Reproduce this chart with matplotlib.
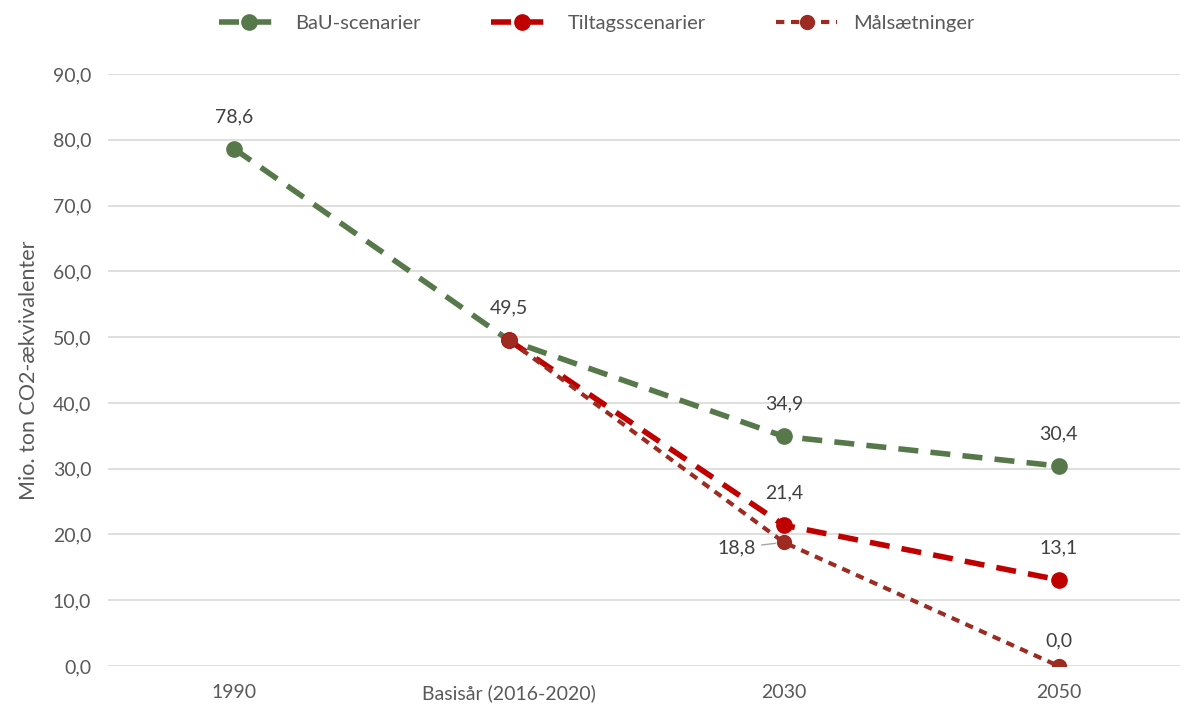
import numpy as np
import matplotlib.pyplot as plt

plt.rcParams['font.family'] = ['Lato', 'DejaVu Sans']

categories = ['1990', 'Basisår (2016-2020)', '2030', '2050']
bau = [78.6, 49.5, 34.9, 30.4]
tiltag = [np.nan, 49.5, 21.4, 13.1]
maal = [np.nan, 49.5, 18.8, 0.0]
yticks = np.arange(0, 91, 10)

green = '#56784A'
red = '#C00000'
maroon = '#9E2B22'
grey = '#595959'

fig = plt.figure(figsize=(11.84, 7.08), dpi=100)
ax = fig.add_axes([0.0912, 0.0593, 0.905, 0.8362])
x = np.arange(len(categories))

ax.plot(x, bau, color=green, lw=4, dashes=(3.6, 2.2), marker='o', ms=11, label='BaU-scenarier')
ax.plot(x, tiltag, color=red, lw=4, dashes=(3.6, 2.2), marker='o', ms=11, label='Tiltagsscenarier')
ax.plot(x, maal, color=maroon, lw=3, dashes=(2, 1.6), marker='o', ms=10, label='Målsætninger')

def fmt(v):
    return f'{v:.1f}'.replace('.', ',')

fs = 14
for i, v in enumerate(bau):
    ax.annotate(fmt(v), (i, v), xytext=(0, 17), textcoords='offset points',
                ha='center', va='bottom', fontsize=fs, color='#404040')
for i in (2, 3):
    ax.annotate(fmt(tiltag[i]), (i, tiltag[i]), xytext=(0, 17), textcoords='offset points',
                ha='center', va='bottom', fontsize=fs, color='#404040')
ax.annotate(fmt(maal[3]), (3, maal[3]), xytext=(0, 12), textcoords='offset points',
            ha='center', va='bottom', fontsize=fs, color='#404040')
ax.annotate(fmt(maal[2]), (2, maal[2]), xytext=(-20, -4), textcoords='offset points',
            ha='right', va='center', fontsize=fs, color='#404040',
            arrowprops=dict(arrowstyle='-', color='#A6A6A6', lw=1,
                            shrinkA=2, shrinkB=6))

ax.set_xlim(-0.46, 3.44)
ax.set_ylim(0, 90)
ax.set_yticks(yticks)
ax.set_yticklabels([fmt(v) for v in yticks])
ax.set_xticks(x)
ax.set_xticklabels(categories)
ax.tick_params(length=0, labelsize=fs, colors=grey, pad=12)
ax.tick_params(axis='x', pad=13)
ax.grid(axis='y', color='#D9D9D9', lw=1.2)
ax.set_axisbelow(True)
for s in ax.spines.values():
    s.set_visible(False)
ax.set_ylabel('Mio. ton CO2-ækvivalenter', fontsize=15.5, color=grey, labelpad=10)

ax.legend(loc='upper center', bbox_to_anchor=(0.456, 1.13), ncol=3, frameon=False,
          fontsize=14.5, labelcolor=grey, handlelength=3.0, columnspacing=3.5)

fig.savefig('out.png', dpi=100)
